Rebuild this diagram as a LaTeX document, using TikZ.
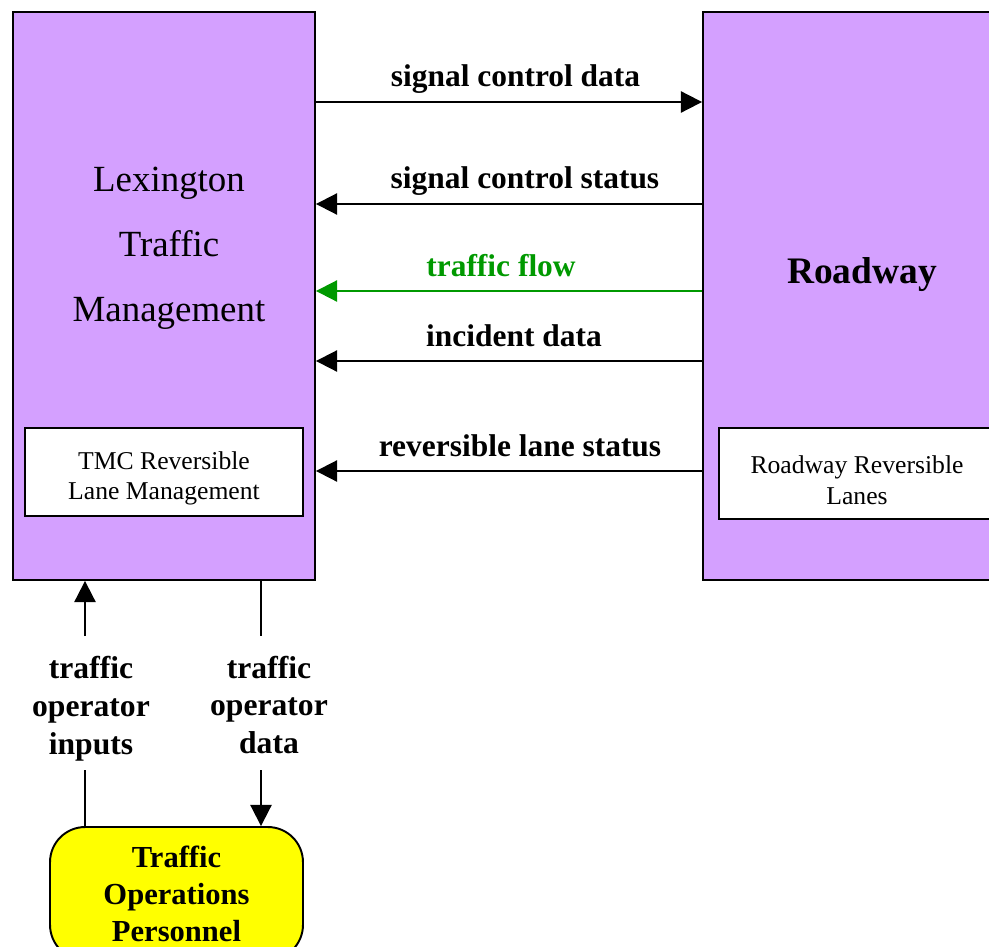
\documentclass[tikz,border=0pt]{standalone}
\usepackage{fontspec}
\setmainfont{Liberation Serif}
\usetikzlibrary{arrows.meta,positioning}
\definecolor{tmcpurple}{RGB}{212,160,255}
\definecolor{flowgreen}{RGB}{0,153,0}
\definecolor{opsyellow}{RGB}{255,255,0}

\begin{document}
\begin{tikzpicture}[x=0.02cm, y=-0.02cm,
    sys/.style={rectangle, draw=black, line width=1.1pt, fill=tmcpurple, inner sep=0pt},
    sub/.style={rectangle, draw=black, line width=1.1pt, fill=white, inner sep=0pt,
                text height=35pt, align=center, font=\fontsize{14.6}{17.6}\selectfont},
    flow/.style={line width=1.1pt, -{Triangle[length=12pt,width=12pt]}},
    lbl/.style={anchor=base, font=\fontsize{17.9}{21}\selectfont\bfseries},
    oplbl/.style={align=center, inner sep=0pt, font=\fontsize{18}{21.5}\selectfont\bfseries}]
\useasboundingbox (0,0) rectangle (989,946);
% the two systems
\node[sys, minimum width=6.04cm, minimum height=11.36cm] (ltm) at (164,296) {};
\node[sys, minimum width=6.36cm, minimum height=11.36cm] (rw) at (862,296) {};
\node[align=center, inner sep=0pt, font=\fontsize{21}{36.9}\selectfont] (ltmtxt) at (169,248)
    {Lexington\\Traffic\\Management};
\node[anchor=base, font=\fontsize{21.3}{25}\selectfont\bfseries] (rwtxt) at (862,283) {Roadway};
% reversible lane subsystems
\node[sub, minimum width=5.56cm, minimum height=1.76cm] (tmcrl) at (164,472)
    {TMC Reversible\\Lane Management};
\node[sub, minimum width=5.52cm, minimum height=1.82cm] (rrl) at (857,473.5)
    {Roadway Reversible\\Lanes};
% terminator
\node[rectangle, draw=black, line width=1.1pt, fill=opsyellow, rounded corners=20pt,
      minimum width=5.06cm, minimum height=2.66cm, align=center,
      font=\fontsize{17.4}{21}\selectfont\bfseries] (ops) at (176.5,893.5)
    {Traffic\\Operations\\Personnel};
% flows between the systems
\draw[flow] (ltm.east |- 0,102) -- (rw.west |- 0,102);
\node[lbl] (scd) at (515.5,86.5) {signal control data};
\draw[flow] (rw.west |- 0,204) -- (ltm.east |- 0,204);
\node[lbl] (scs) at (525,188) {signal control status};
\draw[flow, flowgreen] (rw.west |- 0,291) -- (ltm.east |- 0,291);
\node[lbl, text=flowgreen] (tf) at (501,276) {traffic flow};
\draw[flow] (rw.west |- 0,361) -- (ltm.east |- 0,361);
\node[lbl] (incd) at (514,346) {incident data};
\draw[flow] (rw.west |- 0,471) -- (ltm.east |- 0,471);
\node[lbl] (rls) at (520,456.5) {reversible lane status};
% operator flows
\node[oplbl] (toi) at (91,708.7) {traffic\\operator\\inputs};
\node[oplbl] (tod) at (269,705) {traffic\\operator\\data};
\coordinate (inTop) at (85,636);
\coordinate (inBot) at (85,770);
\coordinate (daTop) at (261,636);
\coordinate (daBot) at (261,770);
\draw[flow] (inTop) -- (ltm.south -| inTop);
\draw[line width=1.1pt] (inBot) -- (ops.north -| inBot);
\draw[line width=1.1pt] (ltm.south -| daTop) -- (daTop);
\draw[flow] (daBot) -- (ops.north -| daBot);
\end{tikzpicture}
\end{document}
